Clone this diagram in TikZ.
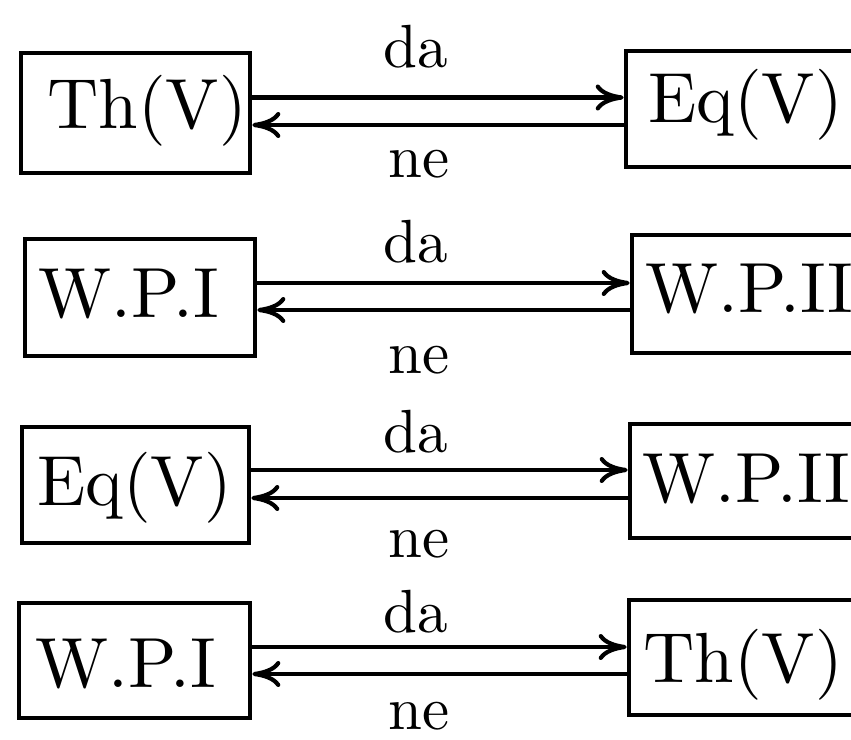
\documentclass[tikz,border=0pt]{standalone}
\usepackage{graphicx}
\usetikzlibrary{arrows.meta}
\newcommand\boxlabel[1]{\scalebox{3.55}{\fontsize{10}{12}\selectfont #1}}
\newcommand\arrlabel[1]{\scalebox{3.05}{\fontsize{10}{12}\selectfont #1}}
\begin{document}
\begin{tikzpicture}[x=0.5pt,y=-0.5pt,
  box/.style={draw, line width=2.3pt, rectangle, inner sep=0pt},
  boxtext/.style={anchor=base west, inner sep=0pt},
  lab/.style={anchor=base, inner sep=0pt},
  arr/.style={line width=2.1pt, -{Computer Modern Rightarrow[length=14pt,width=13pt]}}]
\useasboundingbox (0,0) rectangle (851,739);
\clip (0,0) rectangle (851,739);

% row 1: Th(V) <-> Eq(V)
\node[box, minimum width=114.5pt, minimum height=60pt] (L1) at (135.5,113) {};
\node[boxtext] (L1t) at (47,128) {\boxlabel{Th(V)}};
\node[box, minimum width=137pt, minimum height=58pt] (R1) at (763,109) {};
\node[boxtext] (R1t) at (648,122) {\boxlabel{Eq(V)}};
\coordinate (u1) at (0,97.5);
\coordinate (d1) at (0,125);
\draw[arr] (L1.east |- u1) -- (R1.west |- u1);
\draw[arr] (R1.west |- d1) -- (L1.east |- d1);
\node[lab] (da1) at (416,67) {\arrlabel{da}};
\node[lab] (ne1) at (419,177) {\arrlabel{ne}};

% row 2: W.P.I <-> W.P.II
\node[box, minimum width=115pt, minimum height=58.5pt] (L2) at (140,297.5) {};
\node[boxtext] (L2t) at (38,317) {\boxlabel{W.P.I}};
\node[box, minimum width=137pt, minimum height=59pt] (R2) at (769,294) {};
\node[boxtext] (R2t) at (645,312) {\boxlabel{W.P.II}};
\coordinate (u2) at (0,283);
\coordinate (d2) at (0,310);
\draw[arr] (L2.east |- u2) -- (R2.west |- u2);
\draw[arr] (R2.west |- d2) -- (L2.east |- d2);
\node[lab] (da2) at (416,262) {\arrlabel{da}};
\node[lab] (ne2) at (419,373) {\arrlabel{ne}};

% row 3: Eq(V) <-> W.P.II
\node[box, minimum width=113.5pt, minimum height=58pt] (L3) at (135.5,485) {};
\node[boxtext] (L3t) at (37,505) {\boxlabel{Eq(V)}};
\node[box, minimum width=137pt, minimum height=57pt] (R3) at (767,481) {};
\node[boxtext] (R3t) at (642,502) {\boxlabel{W.P.II}};
\coordinate (u3) at (0,470);
\coordinate (d3) at (0,498);
\draw[arr] (L3.east |- u3) -- (R3.west |- u3);
\draw[arr] (R3.west |- d3) -- (L3.east |- d3);
\node[lab] (da3) at (416,452) {\arrlabel{da}};
\node[lab] (ne3) at (419,557) {\arrlabel{ne}};

% row 4: W.P.I <-> Th(V)
\node[box, minimum width=115.5pt, minimum height=57.5pt] (L4) at (134.5,660.5) {};
\node[boxtext] (L4t) at (35,687) {\boxlabel{W.P.I}};
\node[box, minimum width=137pt, minimum height=57.5pt] (R4) at (766,657.5) {};
\node[boxtext] (R4t) at (643,682) {\boxlabel{Th(V)}};
\coordinate (u4) at (0,647);
\coordinate (d4) at (0,674);
\draw[arr] (L4.east |- u4) -- (R4.west |- u4);
\draw[arr] (R4.west |- d4) -- (L4.east |- d4);
\node[lab] (da4) at (416,632) {\arrlabel{da}};
\node[lab] (ne4) at (419,729) {\arrlabel{ne}};
\end{tikzpicture}
\end{document}
